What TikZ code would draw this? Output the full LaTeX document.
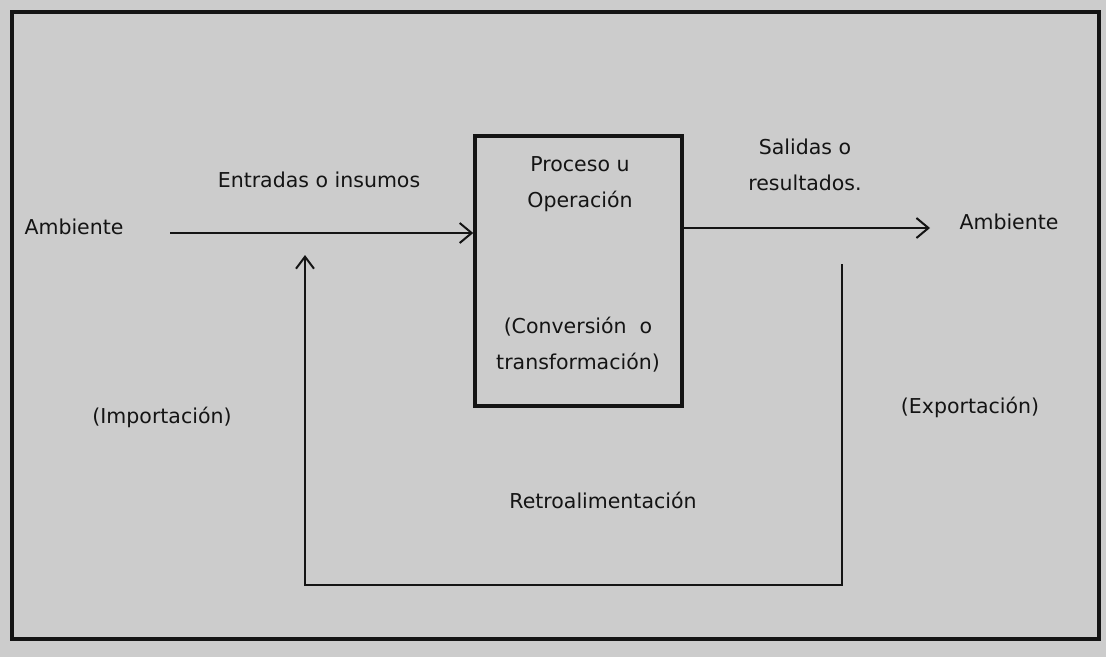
\documentclass[tikz,border=0pt]{standalone}
\usepackage{fontspec}
\setmainfont{DejaVu Sans}
\usetikzlibrary{arrows.meta}
\definecolor{panel}{HTML}{CCCCCC}
\definecolor{ink}{HTML}{141414}
\begin{document}
\begin{tikzpicture}[x=1pt,y=-1pt,
  lbl/.style={text=ink,inner sep=0pt,align=center,
    font=\fontsize{20.5}{36}\selectfont},
  flow/.style={draw=ink,line width=2pt,
    -{Straight Barb[length=12pt,width=20pt,line width=2pt]}},
  fb/.style={draw=ink,line width=2pt,line join=miter},
  procbox/.style={draw=ink,line width=3.5pt,minimum width=207pt,
    minimum height=270pt,inner sep=0pt}]
  % canvas and outer frame
  \useasboundingbox (0,0) rectangle (1106,657);
  \fill[panel] (0,0) rectangle (1106,657);
  \draw[ink,line width=4pt] (12,12) rectangle (1099,639);

  % process block
  \node[procbox] (proc) at (578.5,271) {};
  \node[lbl] (procT) at (580,184) {Proceso u\\Operación};
  \node[lbl] (procB) at (578,345) {(Conversión~ o\\transformación)};

  % labels
  \node[lbl] (ambL) at (74,227) {Ambiente};
  \node[lbl] (ambR) at (1009,222) {Ambiente};
  \node[lbl] (inp) at (319,180) {Entradas o insumos};
  \node[lbl] (outp) at (805,165) {Salidas o\\resultados.};
  \node[lbl] (imp) at (162,417) {(Importación)};
  \node[lbl] (exp) at (970,407) {(Exportación)};
  \node[lbl] (retro) at (603,500) {Retroalimentación};

  % connector end points
  \coordinate (inStart) at (170,233);
  \coordinate (outEnd) at (930,228);
  \coordinate (fbStart) at (842,264);
  \coordinate (fbCorner) at (305,585);
  \coordinate (fbEnd) at (305,255);

  % input and output flows
  \draw[flow] (inStart) -- (inStart -| proc.west);
  \draw[flow] (outEnd -| proc.east) -- (outEnd);

  % feedback loop
  \draw[fb,-{Straight Barb[length=12pt,width=18pt,line width=2pt]}]
    (fbStart) -- (fbStart |- fbCorner) -- (fbCorner) -- (fbEnd);
\end{tikzpicture}
\end{document}
